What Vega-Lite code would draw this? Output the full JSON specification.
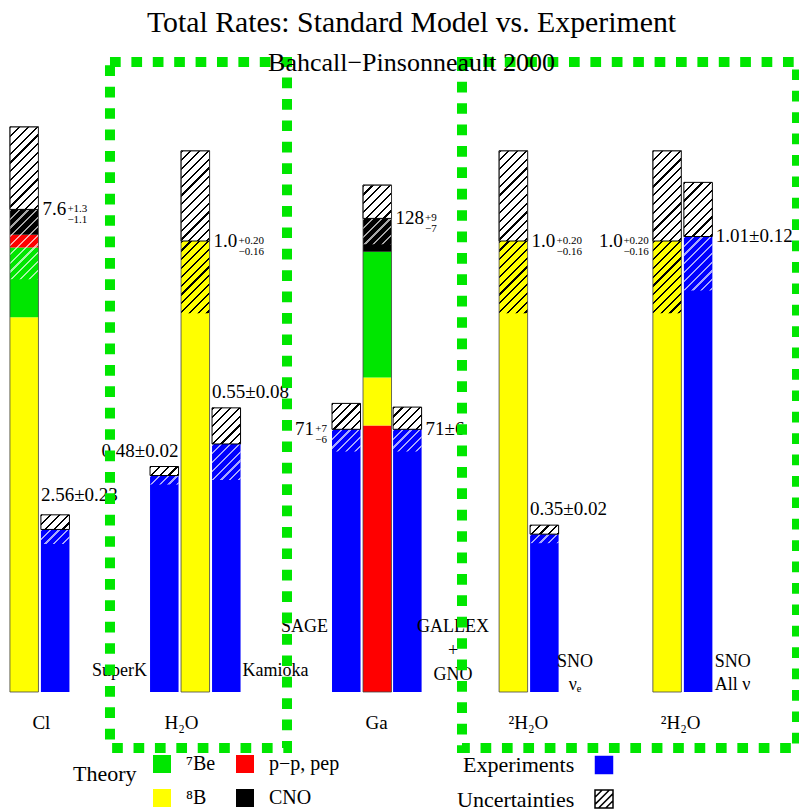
{
  "$schema": "https://vega.github.io/schema/vega-lite/v6.json",
  "width": 799,
  "height": 811,
  "autosize": {"type": "none"},
  "padding": 0,
  "background": "white",
  "title": {
    "text": "Total Rates: Standard Model vs. Experiment",
    "subtitle": "Bahcall−Pinsonneault 2000",
    "anchor": "middle",
    "frame": "group",
    "offset": -76,
    "dx": 12,
    "zindex": -1,
    "font": "Liberation Serif",
    "fontSize": 29.8,
    "fontWeight": "normal",
    "color": "black",
    "subtitleFont": "Liberation Serif",
    "subtitleFontSize": 26,
    "subtitleColor": "black",
    "subtitlePadding": 12
  },
  "params": [
    {"name": "darkStops", "value": [
      {"offset":0,"color":"#000"},{"offset":0.01,"color":"#000"},{"offset":0.01,"color":"rgba(0,0,0,0)"},{"offset":0.04,"color":"rgba(0,0,0,0)"},
      {"offset":0.04,"color":"#000"},{"offset":0.05,"color":"#000"},{"offset":0.05,"color":"rgba(0,0,0,0)"},{"offset":0.08,"color":"rgba(0,0,0,0)"},
      {"offset":0.08,"color":"#000"},{"offset":0.09,"color":"#000"},{"offset":0.09,"color":"rgba(0,0,0,0)"},{"offset":0.12,"color":"rgba(0,0,0,0)"},
      {"offset":0.12,"color":"#000"},{"offset":0.13,"color":"#000"},{"offset":0.13,"color":"rgba(0,0,0,0)"},{"offset":0.16,"color":"rgba(0,0,0,0)"},
      {"offset":0.16,"color":"#000"},{"offset":0.17,"color":"#000"},{"offset":0.17,"color":"rgba(0,0,0,0)"},{"offset":0.2,"color":"rgba(0,0,0,0)"},
      {"offset":0.2,"color":"#000"},{"offset":0.21,"color":"#000"},{"offset":0.21,"color":"rgba(0,0,0,0)"},{"offset":0.24,"color":"rgba(0,0,0,0)"},
      {"offset":0.24,"color":"#000"},{"offset":0.25,"color":"#000"},{"offset":0.25,"color":"rgba(0,0,0,0)"},{"offset":0.28,"color":"rgba(0,0,0,0)"},
      {"offset":0.28,"color":"#000"},{"offset":0.29,"color":"#000"},{"offset":0.29,"color":"rgba(0,0,0,0)"},{"offset":0.32,"color":"rgba(0,0,0,0)"},
      {"offset":0.32,"color":"#000"},{"offset":0.33,"color":"#000"},{"offset":0.33,"color":"rgba(0,0,0,0)"},{"offset":0.36,"color":"rgba(0,0,0,0)"},
      {"offset":0.36,"color":"#000"},{"offset":0.37,"color":"#000"},{"offset":0.37,"color":"rgba(0,0,0,0)"},{"offset":0.4,"color":"rgba(0,0,0,0)"},
      {"offset":0.4,"color":"#000"},{"offset":0.41,"color":"#000"},{"offset":0.41,"color":"rgba(0,0,0,0)"},{"offset":0.44,"color":"rgba(0,0,0,0)"},
      {"offset":0.44,"color":"#000"},{"offset":0.45,"color":"#000"},{"offset":0.45,"color":"rgba(0,0,0,0)"},{"offset":0.48,"color":"rgba(0,0,0,0)"},
      {"offset":0.48,"color":"#000"},{"offset":0.49,"color":"#000"},{"offset":0.49,"color":"rgba(0,0,0,0)"},{"offset":0.52,"color":"rgba(0,0,0,0)"},
      {"offset":0.52,"color":"#000"},{"offset":0.53,"color":"#000"},{"offset":0.53,"color":"rgba(0,0,0,0)"},{"offset":0.56,"color":"rgba(0,0,0,0)"},
      {"offset":0.56,"color":"#000"},{"offset":0.57,"color":"#000"},{"offset":0.57,"color":"rgba(0,0,0,0)"},{"offset":0.6,"color":"rgba(0,0,0,0)"},
      {"offset":0.6,"color":"#000"},{"offset":0.61,"color":"#000"},{"offset":0.61,"color":"rgba(0,0,0,0)"},{"offset":0.64,"color":"rgba(0,0,0,0)"},
      {"offset":0.64,"color":"#000"},{"offset":0.65,"color":"#000"},{"offset":0.65,"color":"rgba(0,0,0,0)"},{"offset":0.68,"color":"rgba(0,0,0,0)"},
      {"offset":0.68,"color":"#000"},{"offset":0.69,"color":"#000"},{"offset":0.69,"color":"rgba(0,0,0,0)"},{"offset":0.72,"color":"rgba(0,0,0,0)"},
      {"offset":0.72,"color":"#000"},{"offset":0.73,"color":"#000"},{"offset":0.73,"color":"rgba(0,0,0,0)"},{"offset":0.76,"color":"rgba(0,0,0,0)"},
      {"offset":0.76,"color":"#000"},{"offset":0.77,"color":"#000"},{"offset":0.77,"color":"rgba(0,0,0,0)"},{"offset":0.8,"color":"rgba(0,0,0,0)"},
      {"offset":0.8,"color":"#000"},{"offset":0.81,"color":"#000"},{"offset":0.81,"color":"rgba(0,0,0,0)"},{"offset":0.84,"color":"rgba(0,0,0,0)"},
      {"offset":0.84,"color":"#000"},{"offset":0.85,"color":"#000"},{"offset":0.85,"color":"rgba(0,0,0,0)"},{"offset":0.88,"color":"rgba(0,0,0,0)"},
      {"offset":0.88,"color":"#000"},{"offset":0.89,"color":"#000"},{"offset":0.89,"color":"rgba(0,0,0,0)"},{"offset":1,"color":"rgba(0,0,0,0)"}
    ]},
    {"name": "lightStops", "value": [
      {"offset":0,"color":"rgba(255,255,255,0.65)"},{"offset":0.01,"color":"rgba(255,255,255,0.65)"},{"offset":0.01,"color":"rgba(255,255,255,0)"},{"offset":0.04,"color":"rgba(255,255,255,0)"},
      {"offset":0.04,"color":"rgba(255,255,255,0.65)"},{"offset":0.05,"color":"rgba(255,255,255,0.65)"},{"offset":0.05,"color":"rgba(255,255,255,0)"},{"offset":0.08,"color":"rgba(255,255,255,0)"},
      {"offset":0.08,"color":"rgba(255,255,255,0.65)"},{"offset":0.09,"color":"rgba(255,255,255,0.65)"},{"offset":0.09,"color":"rgba(255,255,255,0)"},{"offset":0.12,"color":"rgba(255,255,255,0)"},
      {"offset":0.12,"color":"rgba(255,255,255,0.65)"},{"offset":0.13,"color":"rgba(255,255,255,0.65)"},{"offset":0.13,"color":"rgba(255,255,255,0)"},{"offset":0.16,"color":"rgba(255,255,255,0)"},
      {"offset":0.16,"color":"rgba(255,255,255,0.65)"},{"offset":0.17,"color":"rgba(255,255,255,0.65)"},{"offset":0.17,"color":"rgba(255,255,255,0)"},{"offset":0.2,"color":"rgba(255,255,255,0)"},
      {"offset":0.2,"color":"rgba(255,255,255,0.65)"},{"offset":0.21,"color":"rgba(255,255,255,0.65)"},{"offset":0.21,"color":"rgba(255,255,255,0)"},{"offset":0.24,"color":"rgba(255,255,255,0)"},
      {"offset":0.24,"color":"rgba(255,255,255,0.65)"},{"offset":0.25,"color":"rgba(255,255,255,0.65)"},{"offset":0.25,"color":"rgba(255,255,255,0)"},{"offset":0.28,"color":"rgba(255,255,255,0)"},
      {"offset":0.28,"color":"rgba(255,255,255,0.65)"},{"offset":0.29,"color":"rgba(255,255,255,0.65)"},{"offset":0.29,"color":"rgba(255,255,255,0)"},{"offset":0.32,"color":"rgba(255,255,255,0)"},
      {"offset":0.32,"color":"rgba(255,255,255,0.65)"},{"offset":0.33,"color":"rgba(255,255,255,0.65)"},{"offset":0.33,"color":"rgba(255,255,255,0)"},{"offset":0.36,"color":"rgba(255,255,255,0)"},
      {"offset":0.36,"color":"rgba(255,255,255,0.65)"},{"offset":0.37,"color":"rgba(255,255,255,0.65)"},{"offset":0.37,"color":"rgba(255,255,255,0)"},{"offset":0.4,"color":"rgba(255,255,255,0)"},
      {"offset":0.4,"color":"rgba(255,255,255,0.65)"},{"offset":0.41,"color":"rgba(255,255,255,0.65)"},{"offset":0.41,"color":"rgba(255,255,255,0)"},{"offset":0.44,"color":"rgba(255,255,255,0)"},
      {"offset":0.44,"color":"rgba(255,255,255,0.65)"},{"offset":0.45,"color":"rgba(255,255,255,0.65)"},{"offset":0.45,"color":"rgba(255,255,255,0)"},{"offset":0.48,"color":"rgba(255,255,255,0)"},
      {"offset":0.48,"color":"rgba(255,255,255,0.65)"},{"offset":0.49,"color":"rgba(255,255,255,0.65)"},{"offset":0.49,"color":"rgba(255,255,255,0)"},{"offset":0.52,"color":"rgba(255,255,255,0)"},
      {"offset":0.52,"color":"rgba(255,255,255,0.65)"},{"offset":0.53,"color":"rgba(255,255,255,0.65)"},{"offset":0.53,"color":"rgba(255,255,255,0)"},{"offset":0.56,"color":"rgba(255,255,255,0)"},
      {"offset":0.56,"color":"rgba(255,255,255,0.65)"},{"offset":0.57,"color":"rgba(255,255,255,0.65)"},{"offset":0.57,"color":"rgba(255,255,255,0)"},{"offset":0.6,"color":"rgba(255,255,255,0)"},
      {"offset":0.6,"color":"rgba(255,255,255,0.65)"},{"offset":0.61,"color":"rgba(255,255,255,0.65)"},{"offset":0.61,"color":"rgba(255,255,255,0)"},{"offset":0.64,"color":"rgba(255,255,255,0)"},
      {"offset":0.64,"color":"rgba(255,255,255,0.65)"},{"offset":0.65,"color":"rgba(255,255,255,0.65)"},{"offset":0.65,"color":"rgba(255,255,255,0)"},{"offset":0.68,"color":"rgba(255,255,255,0)"},
      {"offset":0.68,"color":"rgba(255,255,255,0.65)"},{"offset":0.69,"color":"rgba(255,255,255,0.65)"},{"offset":0.69,"color":"rgba(255,255,255,0)"},{"offset":0.72,"color":"rgba(255,255,255,0)"},
      {"offset":0.72,"color":"rgba(255,255,255,0.65)"},{"offset":0.73,"color":"rgba(255,255,255,0.65)"},{"offset":0.73,"color":"rgba(255,255,255,0)"},{"offset":0.76,"color":"rgba(255,255,255,0)"},
      {"offset":0.76,"color":"rgba(255,255,255,0.65)"},{"offset":0.77,"color":"rgba(255,255,255,0.65)"},{"offset":0.77,"color":"rgba(255,255,255,0)"},{"offset":0.8,"color":"rgba(255,255,255,0)"},
      {"offset":0.8,"color":"rgba(255,255,255,0.65)"},{"offset":0.81,"color":"rgba(255,255,255,0.65)"},{"offset":0.81,"color":"rgba(255,255,255,0)"},{"offset":0.84,"color":"rgba(255,255,255,0)"},
      {"offset":0.84,"color":"rgba(255,255,255,0.65)"},{"offset":0.85,"color":"rgba(255,255,255,0.65)"},{"offset":0.85,"color":"rgba(255,255,255,0)"},{"offset":0.88,"color":"rgba(255,255,255,0)"},
      {"offset":0.88,"color":"rgba(255,255,255,0.65)"},{"offset":0.89,"color":"rgba(255,255,255,0.65)"},{"offset":0.89,"color":"rgba(255,255,255,0)"},{"offset":1,"color":"rgba(255,255,255,0)"}
    ]}
  ],
  "datasets": {
    "comps": [
      {"fam":"Cl","x":0.32,"x2":1.24,"comp":"⁸B","y0":0,"y1":5.9},
      {"fam":"Cl","x":0.32,"x2":1.24,"comp":"⁷Be","y0":5.9,"y1":7.0},
      {"fam":"Cl","x":0.32,"x2":1.24,"comp":"p−p, pep","y0":7.0,"y1":7.2},
      {"fam":"Cl","x":0.32,"x2":1.24,"comp":"CNO","y0":7.2,"y1":7.6},
      {"fam":"H2O","x":5.84,"x2":6.76,"comp":"⁸B","y0":0,"y1":1.0},
      {"fam":"Ga","x":11.71,"x2":12.63,"comp":"p−p, pep","y0":0,"y1":72},
      {"fam":"Ga","x":11.71,"x2":12.63,"comp":"⁸B","y0":72,"y1":85},
      {"fam":"Ga","x":11.71,"x2":12.63,"comp":"⁷Be","y0":85,"y1":119},
      {"fam":"Ga","x":11.71,"x2":12.63,"comp":"CNO","y0":119,"y1":128},
      {"fam":"H2O","x":16.1,"x2":17.02,"comp":"⁸B","y0":0,"y1":1.0},
      {"fam":"H2O","x":21.06,"x2":21.98,"comp":"⁸B","y0":0,"y1":1.0}
    ],
    "rates": [
      {"fam":"Cl","det":"Cl-th","role":"th","x":0.32,"x2":1.24,"val":7.6,"lo":6.5,"hi":8.9,"lab":"7.6","ud":["+1.3","−1.1"]},
      {"fam":"Cl","det":"Homestake","role":"exp","x":1.32,"x2":2.24,"val":2.56,"lo":2.33,"hi":2.79,"lab":"2.56±0.23"},
      {"fam":"H2O","det":"SuperK","role":"exp","x":4.84,"x2":5.76,"val":0.48,"lo":0.46,"hi":0.5,"lab":"0.48±0.02","name":"SuperK"},
      {"fam":"H2O","det":"H2O-th","role":"th","x":5.84,"x2":6.76,"val":1.0,"lo":0.84,"hi":1.2,"lab":"1.0","ud":["+0.20","−0.16"]},
      {"fam":"H2O","det":"Kamiokande","role":"exp","x":6.84,"x2":7.76,"val":0.55,"lo":0.47,"hi":0.63,"lab":"0.55±0.08","name":"Kamioka"},
      {"fam":"Ga","det":"SAGE","role":"exp","x":10.71,"x2":11.63,"val":71,"lo":65,"hi":78,"lab":"71","ud":["+7","−6"],"name":"SAGE"},
      {"fam":"Ga","det":"Ga-th","role":"th","x":11.71,"x2":12.63,"val":128,"lo":121,"hi":137,"lab":"128","ud":["+9","−7"]},
      {"fam":"Ga","det":"GALLEX+GNO","role":"exp","x":12.68,"x2":13.6,"val":71,"lo":65,"hi":77,"lab":"71±6","name":["GALLEX","+","GNO"]},
      {"fam":"H2O","det":"SNO-th-e","role":"th","x":16.1,"x2":17.02,"val":1.0,"lo":0.84,"hi":1.2,"lab":"1.0","ud":["+0.20","−0.16"]},
      {"fam":"H2O","det":"SNO-e","role":"exp","x":17.1,"x2":18.02,"val":0.35,"lo":0.33,"hi":0.37,"lab":"0.35±0.02","name":["SNO","νₑ"]},
      {"fam":"H2O","det":"SNO-th-all","role":"th","x":21.06,"x2":21.98,"val":1.0,"lo":0.84,"hi":1.2,"lab":"1.0","ud":["+0.20","−0.16"]},
      {"fam":"H2O","det":"SNO-all","role":"exp","x":22.06,"x2":22.98,"val":1.01,"lo":0.89,"hi":1.13,"lab":"1.01±0.12","name":["SNO","All ν"]}
    ],
    "frames": [
      {"x":3.548,"x2":9.258,"top":1.3969,"bot":-0.1242},
      {"x":14.903,"x2":25.71,"top":1.3969,"bot":-0.1242}
    ]
  },
  "encoding": {
    "x": {
      "field": "x",
      "type": "quantitative",
      "scale": {"domain": [0, 25.7742], "nice": false, "zero": false},
      "axis": {
        "title": null,
        "orient": "bottom",
        "offset": -119,
        "domain": false,
        "ticks": false,
        "grid": false,
        "values": [1.32, 5.84, 12.13, 17.03, 21.94],
        "labelExpr": "datum.value < 3 ? 'Cl' : datum.value < 9 ? 'H₂O' : datum.value < 15 ? 'Ga' : '²H₂O'",
        "labelFont": "Liberation Serif",
        "labelFontSize": 19,
        "labelColor": "black",
        "labelBaseline": "alphabetic",
        "labelPadding": 36,
        "labelFlush": false,
        "labelOverlap": false,
        "labelBound": false
      }
    }
  },
  "layer": [
    {
      "layer": [
        {
          "data": {"name": "comps"},
          "transform": [{"filter": "datum.fam == 'Cl'"}],
          "mark": {"type": "rect"},
          "encoding": {
            "x2": {"field": "x2"},
            "y": {"field": "y0", "type": "quantitative", "scale": {"domain": [-1.87402, 10.89764], "nice": false, "zero": false}, "axis": null},
            "y2": {"field": "y1"},
            "fill": {"field": "comp", "type": "nominal", "scale": {"domain": ["⁷Be", "p−p, pep", "⁸B", "CNO"], "range": ["#00e600", "#ff0000", "#ffff00", "#000000"]},
              "legend": {"title": "Theory", "legendX": 73, "legendY": 754, "columns": 2, "direction": "horizontal", "titleBaseline": "alphabetic", "titlePadding": 15, "symbolType": "square", "symbolSize": 324, "labelOffset": 14, "columnPadding": 19, "rowPadding": 14}}
          }
        },
        {
          "data": {"name": "rates"},
          "transform": [{"filter": "datum.fam == 'Cl' && datum.role == 'exp'"}],
          "mark": {"type": "rect", "fill": "#0000ff", "strokeWidth": 0},
          "encoding": {
            "x2": {"field": "x2"},
            "y": {"field": "val", "type": "quantitative", "scale": {"domain": [-1.87402, 10.89764], "nice": false, "zero": false}, "axis": null},
            "y2": {"datum": 0},
            "stroke": {"field": "role", "type": "nominal", "scale": {"domain": ["exp"], "range": ["#0000ff"]},
              "legend": {"title": "Experiments", "legendX": 463, "legendY": 755, "titleBaseline": "middle", "titlePadding": 19, "labelExpr": "''", "symbolType": "square", "symbolSize": 342, "symbolStrokeWidth": 0}}
          }
        },
        {
          "data": {"name": "rates"},
          "transform": [{"filter": "datum.fam == 'Cl'"}],
          "mark": {"type": "rect", "fill": {"expr": "{gradient:'linear',x1:0,y1:0,x2:6274.4/(813.4+pow((datum.val-datum.lo)*63.5,2)),y2:220*(datum.val-datum.lo)*63.5/(813.4+pow((datum.val-datum.lo)*63.5,2)),stops:lightStops}"}},
          "encoding": {
            "x2": {"field": "x2"},
            "y": {"field": "lo", "type": "quantitative", "scale": {"domain": [-1.87402, 10.89764], "nice": false, "zero": false}, "axis": null},
            "y2": {"field": "val"}
          }
        },
        {
          "data": {"name": "rates"},
          "transform": [{"filter": "datum.fam == 'Cl'"}],
          "mark": {"type": "rect", "stroke": "#000000", "strokeWidth": 1, "fill": {"expr": "{gradient:'linear',x1:0,y1:0,x2:6274.4/(813.4+pow((datum.hi-datum.val)*63.5,2)),y2:220*(datum.hi-datum.val)*63.5/(813.4+pow((datum.hi-datum.val)*63.5,2)),stops:darkStops}"}},
          "encoding": {
            "x2": {"field": "x2"},
            "y": {"field": "val", "type": "quantitative", "scale": {"domain": [-1.87402, 10.89764], "nice": false, "zero": false}, "axis": null},
            "y2": {"field": "hi"}
          }
        },
        {
          "data": {"name": "rates"},
          "transform": [{"filter": "datum.fam == 'Cl' && datum.role == 'th'"}],
          "mark": {"type": "rect", "fill": "transparent", "stroke": "#444444", "strokeWidth": 0.8},
          "encoding": {
            "x2": {"field": "x2"},
            "y": {"field": "hi", "type": "quantitative", "scale": {"domain": [-1.87402, 10.89764], "nice": false, "zero": false}, "axis": null},
            "y2": {"datum": 0},
            "opacity": {"datum": "Uncertainties", "type": "nominal", "scale": {"domain": ["Uncertainties"], "range": [1]},
              "legend": {"title": "Uncertainties", "legendX": 457, "legendY": 789, "titleBaseline": "middle", "titlePadding": 19, "labelExpr": "''", "symbolType": "M-1,-1H1V1H-1Z M-1,-0.2L-0.2,-1 M-1,0.6L0.6,-1 M-0.6,1L1,-0.6 M0.2,1L1,0.2", "symbolSize": 324, "symbolFillColor": "#ffffff", "symbolStrokeColor": "#000000", "symbolStrokeWidth": 1.5}}
          }
        },
        {
          "data": {"name": "rates"},
          "transform": [{"filter": "datum.fam == 'Cl' && datum.role == 'th'"}],
          "mark": {"type": "text", "align": "left", "baseline": "middle", "dx": 32.5, "fontSize": 19},
          "encoding": {
            "y": {"field": "val", "type": "quantitative", "scale": {"domain": [-1.87402, 10.89764], "nice": false, "zero": false}, "axis": null},
            "text": {"field": "lab"}
          }
        },
        {
          "data": {"name": "rates"},
          "transform": [{"filter": "datum.fam == 'Cl' && datum.role == 'th'"}],
          "mark": {"type": "text", "align": "left", "baseline": "middle", "dx": 57.5, "fontSize": 11, "lineHeight": 11},
          "encoding": {
            "y": {"field": "val", "type": "quantitative", "scale": {"domain": [-1.87402, 10.89764], "nice": false, "zero": false}, "axis": null},
            "text": {"field": "ud"}
          }
        },
        {
          "data": {"name": "rates"},
          "transform": [{"filter": "datum.fam == 'Cl' && datum.role == 'exp'"}],
          "mark": {"type": "text", "align": "left", "baseline": "alphabetic", "dy": -14, "fontSize": 19},
          "encoding": {
            "y": {"field": "hi", "type": "quantitative", "scale": {"domain": [-1.87402, 10.89764], "nice": false, "zero": false}, "axis": null},
            "text": {"field": "lab"}
          }
        }
      ]
    },
    {
      "layer": [
        {
          "data": {"name": "comps"},
          "transform": [{"filter": "datum.fam == 'Ga'"}],
          "mark": {"type": "rect"},
          "encoding": {
            "x2": {"field": "x2"},
            "y": {"field": "y0", "type": "quantitative", "scale": {"domain": [-32.1622, 187.027], "nice": false, "zero": false}, "axis": null},
            "y2": {"field": "y1"},
            "fill": {"field": "comp", "type": "nominal", "scale": {"domain": ["⁷Be", "p−p, pep", "⁸B", "CNO"], "range": ["#00e600", "#ff0000", "#ffff00", "#000000"]},
              "legend": {"title": "Theory", "legendX": 73, "legendY": 754, "columns": 2, "direction": "horizontal", "titleBaseline": "alphabetic", "titlePadding": 15, "symbolType": "square", "symbolSize": 324, "labelOffset": 14, "columnPadding": 19, "rowPadding": 14}}
          }
        },
        {
          "data": {"name": "rates"},
          "transform": [{"filter": "datum.fam == 'Ga' && datum.role == 'exp'"}],
          "mark": {"type": "rect", "fill": "#0000ff", "strokeWidth": 0},
          "encoding": {
            "x2": {"field": "x2"},
            "y": {"field": "val", "type": "quantitative", "scale": {"domain": [-32.1622, 187.027], "nice": false, "zero": false}, "axis": null},
            "y2": {"datum": 0},
            "stroke": {"field": "role", "type": "nominal", "scale": {"domain": ["exp"], "range": ["#0000ff"]},
              "legend": {"title": "Experiments", "legendX": 463, "legendY": 755, "titleBaseline": "middle", "titlePadding": 19, "labelExpr": "''", "symbolType": "square", "symbolSize": 342, "symbolStrokeWidth": 0}}
          }
        },
        {
          "data": {"name": "rates"},
          "transform": [{"filter": "datum.fam == 'Ga'"}],
          "mark": {"type": "rect", "fill": {"expr": "{gradient:'linear',x1:0,y1:0,x2:6274.4/(813.4+pow((datum.val-datum.lo)*3.7,2)),y2:220*(datum.val-datum.lo)*3.7/(813.4+pow((datum.val-datum.lo)*3.7,2)),stops:lightStops}"}},
          "encoding": {
            "x2": {"field": "x2"},
            "y": {"field": "lo", "type": "quantitative", "scale": {"domain": [-32.1622, 187.027], "nice": false, "zero": false}, "axis": null},
            "y2": {"field": "val"}
          }
        },
        {
          "data": {"name": "rates"},
          "transform": [{"filter": "datum.fam == 'Ga'"}],
          "mark": {"type": "rect", "stroke": "#000000", "strokeWidth": 1, "fill": {"expr": "{gradient:'linear',x1:0,y1:0,x2:6274.4/(813.4+pow((datum.hi-datum.val)*3.7,2)),y2:220*(datum.hi-datum.val)*3.7/(813.4+pow((datum.hi-datum.val)*3.7,2)),stops:darkStops}"}},
          "encoding": {
            "x2": {"field": "x2"},
            "y": {"field": "val", "type": "quantitative", "scale": {"domain": [-32.1622, 187.027], "nice": false, "zero": false}, "axis": null},
            "y2": {"field": "hi"}
          }
        },
        {
          "data": {"name": "rates"},
          "transform": [{"filter": "datum.fam == 'Ga' && datum.role == 'th'"}],
          "mark": {"type": "rect", "fill": "transparent", "stroke": "#444444", "strokeWidth": 0.8},
          "encoding": {
            "x2": {"field": "x2"},
            "y": {"field": "hi", "type": "quantitative", "scale": {"domain": [-32.1622, 187.027], "nice": false, "zero": false}, "axis": null},
            "y2": {"datum": 0},
            "opacity": {"datum": "Uncertainties", "type": "nominal", "scale": {"domain": ["Uncertainties"], "range": [1]},
              "legend": {"title": "Uncertainties", "legendX": 457, "legendY": 789, "titleBaseline": "middle", "titlePadding": 19, "labelExpr": "''", "symbolType": "M-1,-1H1V1H-1Z M-1,-0.2L-0.2,-1 M-1,0.6L0.6,-1 M-0.6,1L1,-0.6 M0.2,1L1,0.2", "symbolSize": 324, "symbolFillColor": "#ffffff", "symbolStrokeColor": "#000000", "symbolStrokeWidth": 1.5}}
          }
        },
        {
          "data": {"name": "rates"},
          "transform": [{"filter": "datum.det == 'Ga-th'"}],
          "mark": {"type": "text", "align": "left", "baseline": "middle", "dx": 32.5, "fontSize": 19},
          "encoding": {
            "y": {"field": "val", "type": "quantitative", "scale": {"domain": [-32.1622, 187.027], "nice": false, "zero": false}, "axis": null},
            "text": {"field": "lab"}
          }
        },
        {
          "data": {"name": "rates"},
          "transform": [{"filter": "datum.det == 'Ga-th'"}],
          "mark": {"type": "text", "align": "left", "baseline": "middle", "dx": 62, "fontSize": 11, "lineHeight": 11},
          "encoding": {
            "y": {"field": "val", "type": "quantitative", "scale": {"domain": [-32.1622, 187.027], "nice": false, "zero": false}, "axis": null},
            "text": {"field": "ud"}
          }
        },
        {
          "data": {"name": "rates"},
          "transform": [{"filter": "datum.det == 'SAGE'"}],
          "mark": {"type": "text", "align": "right", "baseline": "middle", "dx": -18, "fontSize": 19},
          "encoding": {
            "y": {"field": "val", "type": "quantitative", "scale": {"domain": [-32.1622, 187.027], "nice": false, "zero": false}, "axis": null},
            "text": {"field": "lab"}
          }
        },
        {
          "data": {"name": "rates"},
          "transform": [{"filter": "datum.det == 'SAGE'"}],
          "mark": {"type": "text", "align": "right", "baseline": "middle", "dx": -5, "fontSize": 11, "lineHeight": 11},
          "encoding": {
            "y": {"field": "val", "type": "quantitative", "scale": {"domain": [-32.1622, 187.027], "nice": false, "zero": false}, "axis": null},
            "text": {"field": "ud"}
          }
        },
        {
          "data": {"name": "rates"},
          "transform": [{"filter": "datum.det == 'GALLEX+GNO'"}],
          "mark": {"type": "text", "align": "left", "baseline": "middle", "dx": 32.5, "fontSize": 19},
          "encoding": {
            "y": {"field": "val", "type": "quantitative", "scale": {"domain": [-32.1622, 187.027], "nice": false, "zero": false}, "axis": null},
            "text": {"field": "lab"}
          }
        },
        {
          "data": {"name": "rates"},
          "transform": [{"filter": "datum.det == 'SAGE'"}],
          "mark": {"type": "text", "align": "right", "baseline": "alphabetic", "dx": -4, "dy": -60, "fontSize": 18},
          "encoding": {
            "y": {"datum": 0, "type": "quantitative", "scale": {"domain": [-32.1622, 187.027], "nice": false, "zero": false}, "axis": null},
            "text": {"field": "name"}
          }
        },
        {
          "data": {"name": "rates"},
          "transform": [{"filter": "datum.det == 'GALLEX+GNO'"}],
          "mark": {"type": "text", "align": "center", "baseline": "alphabetic", "dx": 60, "dy": -60, "fontSize": 18, "lineHeight": 24},
          "encoding": {
            "y": {"datum": 0, "type": "quantitative", "scale": {"domain": [-32.1622, 187.027], "nice": false, "zero": false}, "axis": null},
            "text": {"field": "name"}
          }
        }
      ]
    },
    {
      "layer": [
        {
          "data": {"name": "comps"},
          "transform": [{"filter": "datum.fam == 'H2O'"}],
          "mark": {"type": "rect"},
          "encoding": {
            "x2": {"field": "x2"},
            "y": {"field": "y0", "type": "quantitative", "scale": {"domain": [-0.263858, 1.534368], "nice": false, "zero": false}, "axis": null},
            "y2": {"field": "y1"},
            "fill": {"field": "comp", "type": "nominal", "scale": {"domain": ["⁷Be", "p−p, pep", "⁸B", "CNO"], "range": ["#00e600", "#ff0000", "#ffff00", "#000000"]},
              "legend": {"title": "Theory", "legendX": 73, "legendY": 754, "columns": 2, "direction": "horizontal", "titleBaseline": "alphabetic", "titlePadding": 15, "symbolType": "square", "symbolSize": 324, "labelOffset": 14, "columnPadding": 19, "rowPadding": 14}}
          }
        },
        {
          "data": {"name": "rates"},
          "transform": [{"filter": "datum.fam == 'H2O' && datum.role == 'exp'"}],
          "mark": {"type": "rect", "fill": "#0000ff", "strokeWidth": 0},
          "encoding": {
            "x2": {"field": "x2"},
            "y": {"field": "val", "type": "quantitative", "scale": {"domain": [-0.263858, 1.534368], "nice": false, "zero": false}, "axis": null},
            "y2": {"datum": 0},
            "stroke": {"field": "role", "type": "nominal", "scale": {"domain": ["exp"], "range": ["#0000ff"]},
              "legend": {"title": "Experiments", "legendX": 463, "legendY": 755, "titleBaseline": "middle", "titlePadding": 19, "labelExpr": "''", "symbolType": "square", "symbolSize": 342, "symbolStrokeWidth": 0}}
          }
        },
        {
          "data": {"name": "rates"},
          "transform": [{"filter": "datum.fam == 'H2O'"}],
          "mark": {"type": "rect", "fill": {"expr": "{gradient:'linear',x1:0,y1:0,x2:6274.4/(813.4+pow((datum.val-datum.lo)*451,2)),y2:220*(datum.val-datum.lo)*451/(813.4+pow((datum.val-datum.lo)*451,2)),stops:(datum.role=='th'?darkStops:lightStops)}"}},
          "encoding": {
            "x2": {"field": "x2"},
            "y": {"field": "lo", "type": "quantitative", "scale": {"domain": [-0.263858, 1.534368], "nice": false, "zero": false}, "axis": null},
            "y2": {"field": "val"}
          }
        },
        {
          "data": {"name": "rates"},
          "transform": [{"filter": "datum.fam == 'H2O'"}],
          "mark": {"type": "rect", "stroke": "#000000", "strokeWidth": 1, "fill": {"expr": "{gradient:'linear',x1:0,y1:0,x2:6274.4/(813.4+pow((datum.hi-datum.val)*451,2)),y2:220*(datum.hi-datum.val)*451/(813.4+pow((datum.hi-datum.val)*451,2)),stops:darkStops}"}},
          "encoding": {
            "x2": {"field": "x2"},
            "y": {"field": "val", "type": "quantitative", "scale": {"domain": [-0.263858, 1.534368], "nice": false, "zero": false}, "axis": null},
            "y2": {"field": "hi"}
          }
        },
        {
          "data": {"name": "rates"},
          "transform": [{"filter": "datum.fam == 'H2O' && datum.role == 'th'"}],
          "mark": {"type": "rect", "fill": "transparent", "stroke": "#444444", "strokeWidth": 0.8},
          "encoding": {
            "x2": {"field": "x2"},
            "y": {"field": "hi", "type": "quantitative", "scale": {"domain": [-0.263858, 1.534368], "nice": false, "zero": false}, "axis": null},
            "y2": {"datum": 0},
            "opacity": {"datum": "Uncertainties", "type": "nominal", "scale": {"domain": ["Uncertainties"], "range": [1]},
              "legend": {"title": "Uncertainties", "legendX": 457, "legendY": 789, "titleBaseline": "middle", "titlePadding": 19, "labelExpr": "''", "symbolType": "M-1,-1H1V1H-1Z M-1,-0.2L-0.2,-1 M-1,0.6L0.6,-1 M-0.6,1L1,-0.6 M0.2,1L1,0.2", "symbolSize": 324, "symbolFillColor": "#ffffff", "symbolStrokeColor": "#000000", "symbolStrokeWidth": 1.5}}
          }
        },
        {
          "data": {"name": "rates"},
          "transform": [{"filter": "datum.det == 'H2O-th' || datum.det == 'SNO-th-e'"}],
          "mark": {"type": "text", "align": "left", "baseline": "middle", "dx": 32.5, "fontSize": 19},
          "encoding": {
            "y": {"field": "val", "type": "quantitative", "scale": {"domain": [-0.263858, 1.534368], "nice": false, "zero": false}, "axis": null},
            "text": {"field": "lab"}
          }
        },
        {
          "data": {"name": "rates"},
          "transform": [{"filter": "datum.det == 'H2O-th' || datum.det == 'SNO-th-e'"}],
          "mark": {"type": "text", "align": "left", "baseline": "middle", "dx": 57.5, "fontSize": 11, "lineHeight": 11},
          "encoding": {
            "y": {"field": "val", "type": "quantitative", "scale": {"domain": [-0.263858, 1.534368], "nice": false, "zero": false}, "axis": null},
            "text": {"field": "ud"}
          }
        },
        {
          "data": {"name": "rates"},
          "transform": [{"filter": "datum.det == 'SNO-th-all'"}],
          "mark": {"type": "text", "align": "right", "baseline": "middle", "dx": -30, "fontSize": 19},
          "encoding": {
            "y": {"field": "val", "type": "quantitative", "scale": {"domain": [-0.263858, 1.534368], "nice": false, "zero": false}, "axis": null},
            "text": {"field": "lab"}
          }
        },
        {
          "data": {"name": "rates"},
          "transform": [{"filter": "datum.det == 'SNO-th-all'"}],
          "mark": {"type": "text", "align": "right", "baseline": "middle", "dx": -4, "fontSize": 11, "lineHeight": 11},
          "encoding": {
            "y": {"field": "val", "type": "quantitative", "scale": {"domain": [-0.263858, 1.534368], "nice": false, "zero": false}, "axis": null},
            "text": {"field": "ud"}
          }
        },
        {
          "data": {"name": "rates"},
          "transform": [{"filter": "datum.det == 'Kamiokande' || datum.det == 'SNO-e'"}],
          "mark": {"type": "text", "align": "left", "baseline": "alphabetic", "dy": -10, "fontSize": 19},
          "encoding": {
            "y": {"field": "hi", "type": "quantitative", "scale": {"domain": [-0.263858, 1.534368], "nice": false, "zero": false}, "axis": null},
            "text": {"field": "lab"}
          }
        },
        {
          "data": {"name": "rates"},
          "transform": [{"filter": "datum.det == 'SuperK'"}],
          "mark": {"type": "text", "align": "right", "baseline": "alphabetic", "dx": 28.5, "dy": -10, "fontSize": 19},
          "encoding": {
            "y": {"field": "hi", "type": "quantitative", "scale": {"domain": [-0.263858, 1.534368], "nice": false, "zero": false}, "axis": null},
            "text": {"field": "lab"}
          }
        },
        {
          "data": {"name": "rates"},
          "transform": [{"filter": "datum.det == 'SNO-all'"}],
          "mark": {"type": "text", "align": "left", "baseline": "middle", "dx": 32, "fontSize": 19},
          "encoding": {
            "y": {"field": "val", "type": "quantitative", "scale": {"domain": [-0.263858, 1.534368], "nice": false, "zero": false}, "axis": null},
            "text": {"field": "lab"}
          }
        },
        {
          "data": {"name": "rates"},
          "transform": [{"filter": "datum.det == 'SuperK'"}],
          "mark": {"type": "text", "align": "right", "baseline": "alphabetic", "dx": -3, "dy": -16, "fontSize": 18},
          "encoding": {
            "y": {"datum": 0, "type": "quantitative", "scale": {"domain": [-0.263858, 1.534368], "nice": false, "zero": false}, "axis": null},
            "text": {"field": "name"}
          }
        },
        {
          "data": {"name": "rates"},
          "transform": [{"filter": "datum.det == 'Kamiokande'"}],
          "mark": {"type": "text", "align": "left", "baseline": "alphabetic", "dx": 30.5, "dy": -16, "fontSize": 18},
          "encoding": {
            "y": {"datum": 0, "type": "quantitative", "scale": {"domain": [-0.263858, 1.534368], "nice": false, "zero": false}, "axis": null},
            "text": {"field": "name"}
          }
        },
        {
          "data": {"name": "rates"},
          "transform": [{"filter": "datum.det == 'SNO-all'"}],
          "mark": {"type": "text", "align": "left", "baseline": "alphabetic", "dx": 31, "dy": -25, "fontSize": 18, "lineHeight": 23},
          "encoding": {
            "y": {"datum": 0, "type": "quantitative", "scale": {"domain": [-0.263858, 1.534368], "nice": false, "zero": false}, "axis": null},
            "text": {"field": "name"}
          }
        },
        {
          "data": {"name": "rates"},
          "transform": [{"filter": "datum.det == 'SNO-e'"}],
          "mark": {"type": "text", "align": "center", "baseline": "alphabetic", "dx": 45, "dy": -25, "fontSize": 18, "lineHeight": 23},
          "encoding": {
            "y": {"datum": 0, "type": "quantitative", "scale": {"domain": [-0.263858, 1.534368], "nice": false, "zero": false}, "axis": null},
            "text": {"field": "name"}
          }
        },
        {
          "data": {"name": "frames"},
          "mark": {"type": "rect", "fill": "transparent", "stroke": "#00e600", "strokeWidth": 10, "strokeDash": [10.7, 10.7]},
          "encoding": {
            "x2": {"field": "x2"},
            "y": {"field": "top", "type": "quantitative", "scale": {"domain": [-0.263858, 1.534368], "nice": false, "zero": false}, "axis": null},
            "y2": {"field": "bot"}
          }
        }
      ]
    }
  ],
  "resolve": {"scale": {"y": "independent"}},
  "config": {
    "view": {"stroke": null},
    "font": "Liberation Serif",
    "text": {"font": "Liberation Serif", "color": "black"},
    "legend": {
      "orient": "none",
      "titleOrient": "left",
      "titleAnchor": "middle",
      "padding": 0,
      "labelFont": "Liberation Serif",
      "titleFont": "Liberation Serif",
      "labelFontSize": 20,
      "titleFontSize": 22,
      "titleFontWeight": "normal",
      "titleColor": "black",
      "labelColor": "black",
      "symbolStrokeWidth": 0
    }
  }
}
